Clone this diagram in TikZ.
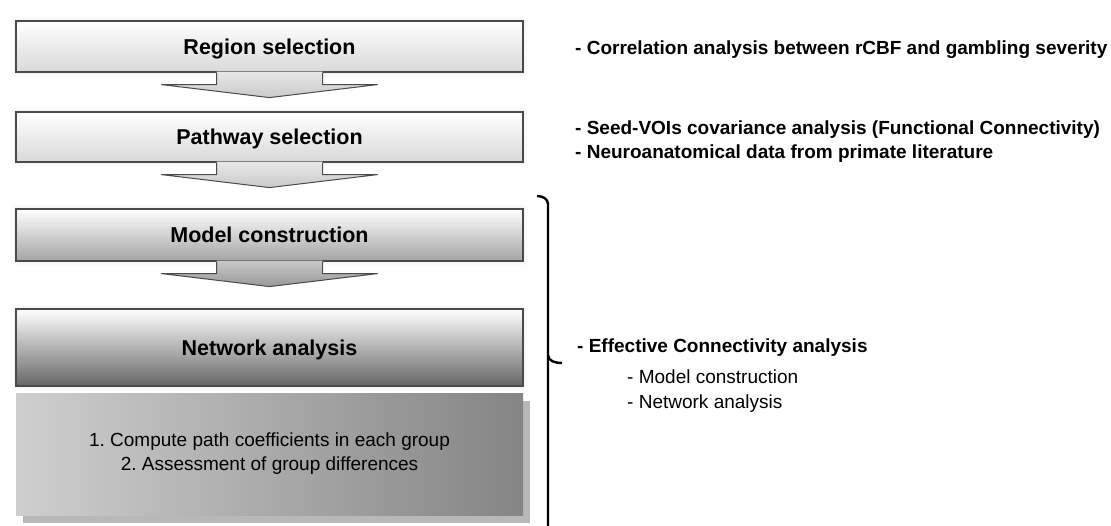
\documentclass[tikz,border=0pt]{standalone}
\usepackage{fontspec}
\setmainfont{Liberation Sans}
\usetikzlibrary{calc, shadows, shadows.blur}

\definecolor{edge}{HTML}{4A4A4A}

% block arrow hanging under a box
\newcommand{\flowarrow}[3]{%
	\path[top color=#2, bottom color=#3]
		($(#1.south)+(-53,-1)$) -- ++(0,13) -- ++(-55,0) -- ($(#1.south)+(0,25)$)
		-- ($(#1.south)+(108,12)$) -- ++(-55,0) -- ++(0,-13) -- cycle;
	\draw[edge, line width=1pt, line join=round]
		($(#1.south)+(-53,0)$) -- ++(0,12) -- ++(-55,0) -- ($(#1.south)+(0,25)$)
		-- ($(#1.south)+(108,12)$) -- ++(-55,0) -- ++(0,-12);
}

\begin{document}
\frenchspacing
\begin{tikzpicture}[x=1pt, y=-1pt, inner sep=0pt,
	stage/.style={draw=edge, line width=1.2pt, minimum width=507pt,
		text height=15.3pt, text depth=0pt,
		blur shadow={shadow xshift=0pt, shadow yshift=0pt, shadow blur radius=5pt, shadow opacity=12},
		font=\fontsize{21.5}{24}\selectfont\bfseries},
	note/.style={anchor=base west, font=\fontsize{19}{24}\selectfont\bfseries},
	subnote/.style={anchor=base west, font=\fontsize{19}{24}\selectfont}]
	\useasboundingbox (0,0) rectangle (1111,525);

	\node[stage, minimum height=51pt, top color=white, bottom color=black!15] (region) at (269.5, 46.5) {Region selection};
	\node[stage, minimum height=50pt, top color=white, bottom color=black!15] (pathway) at (269.5, 137) {Pathway selection};
	\node[stage, minimum height=52pt, top color=white, bottom color=black!36] (model) at (269.5, 235) {Model construction};
	\node[stage, minimum height=77pt, top color=white, middle color=black!24, bottom color=black!60] (network) at (269.5, 347.5) {Network analysis};
	\node[minimum width=507pt, minimum height=122pt, left color=black!19, right color=black!48, align=center,
		general shadow={fill=black!28, shadow xshift=7pt, shadow yshift=-8pt},
		font=\fontsize{19}{24}\selectfont] (coeff) at (269.5, 454)
		{1. Compute path coefficients in each group\\2. Assessment of group differences};

	\flowarrow{region}{black!9}{black!21}
	\flowarrow{pathway}{black!9}{black!21}
	\flowarrow{model}{black!22}{black!40}

	\node[note] (rcbf) at (575, 54) {- Correlation analysis between rCBF and gambling severity};
	\node[note] (seed) at (575, 134) {- Seed-VOIs covariance analysis (Functional Connectivity)};
	\node[note] (primate) at (575, 158) {- Neuroanatomical data from primate literature};
	\node[note] (effective) at (577, 352) {- Effective Connectivity analysis};
	\node[subnote] (sub1) at (627, 383) {- Model construction};
	\node[subnote] (sub2) at (627, 408) {- Network analysis};

	% bracket
	\draw[line width=2.4pt] (537,196) to[out=0, in=90] (548,204) -- (548,530);
	\draw[line width=2.4pt] (548,355) to[out=-90, in=180] (562,363);
\end{tikzpicture}
\end{document}
